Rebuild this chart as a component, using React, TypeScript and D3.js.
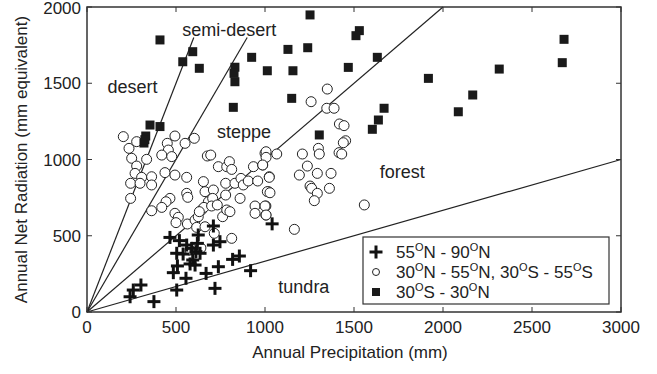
import React from "react";
import * as d3 from "d3";

// Data (precipitation mm, net radiation mm equivalent)
const highLat: [number, number][] = [
  [466, 489], [519, 468], [625, 505], [710, 564], [1040, 578], [560, 439], [588, 417],
  [612, 396], [504, 385], [635, 385], [594, 341], [579, 315], [607, 308], [508, 302],
  [485, 258], [556, 221], [669, 253], [738, 297], [710, 439], [747, 461], [818, 345],
  [856, 367], [919, 271], [719, 155], [504, 144], [376, 68], [303, 177], [260, 144],
  [242, 100], [620, 450], [540, 380],
];

const midLat: [number, number][] = [
  [204, 1150], [279, 1117], [236, 1073], [251, 1008], [335, 1001], [279, 957], [270, 909],
  [307, 883], [245, 844], [298, 844], [245, 745], [363, 887], [363, 833], [438, 914],
  [451, 1106], [494, 1154], [457, 1062], [420, 1029], [476, 1019], [551, 1106], [603, 1139],
  [676, 1023], [695, 1029], [738, 953], [785, 953], [800, 986], [813, 935], [654, 855],
  [663, 789], [779, 844], [831, 844], [865, 876], [878, 833], [906, 859], [959, 859],
  [935, 953], [987, 964], [1000, 1040], [1024, 887], [1019, 789], [860, 745], [779, 767],
  [710, 800], [682, 723], [706, 745], [644, 669], [657, 686], [700, 695], [732, 702],
  [762, 625], [785, 669], [803, 658], [944, 695], [944, 647], [1005, 695], [1005, 636],
  [564, 577], [607, 603], [625, 625], [616, 555], [663, 559], [715, 516], [813, 483],
  [631, 658], [560, 778], [466, 745], [444, 723], [420, 686], [363, 664], [494, 647],
  [513, 621], [500, 586], [566, 752], [494, 898], [560, 883], [579, 406], [640, 420],
  [1350, 1462], [1259, 1379], [1347, 1336], [1388, 1336], [1418, 1233], [1444, 1222],
  [1453, 1123], [1440, 1110], [1300, 1073], [1305, 1036], [1416, 1045], [1431, 1036],
  [1210, 1036], [1066, 1036], [1006, 1051], [1006, 1014], [987, 964], [1238, 957],
  [1193, 898], [1294, 909], [1371, 909], [1024, 883], [1253, 826], [1262, 811],
  [1294, 778], [1277, 730], [1362, 811], [1013, 789], [1028, 782], [1000, 695],
  [1006, 636], [1165, 542], [1558, 702],
];

const tropics: [number, number][] = [
  [410, 1784], [594, 1707], [538, 1641], [631, 1598], [831, 1605], [826, 1565], [831, 1510],
  [822, 1342], [925, 1670], [1013, 1582], [354, 1226], [410, 1216], [330, 1154], [320, 1108],
  [325, 1130], [1253, 1948], [1530, 1845], [1511, 1812], [1129, 1722], [1240, 1733],
  [1631, 1670], [1157, 1582], [1468, 1604], [1918, 1532], [1150, 1401], [1669, 1336],
  [1637, 1259], [1603, 1198], [1305, 1161], [2086, 1313], [2680, 1788], [2670, 1635],
  [2316, 1593], [2167, 1423],
];

// Boundary lines: dryness ratio R/P
const boundaries: { slope: number; pEnd: number }[] = [
  { slope: 3, pEnd: 600 },
  { slope: 2, pEnd: 900 },
  { slope: 1, pEnd: 2000 },
  { slope: 1 / 3, pEnd: 3000 },
];

const regionLabels: { text: string; p: number; r: number }[] = [
  { text: "semi-desert", p: 535, r: 1810 },
  { text: "desert", p: 115, r: 1435 },
  { text: "steppe", p: 730, r: 1140 },
  { text: "forest", p: 1645, r: 880 },
  { text: "tundra", p: 1075, r: 125 },
];

const xTicks = [0, 500, 1000, 1500, 2000, 2500, 3000];
const yTicks = [0, 500, 1000, 1500, 2000];

const legendItems: { kind: string; parts: [string, boolean][] }[] = [
  { kind: "cross", parts: [["55", false], ["O", true], ["N - 90", false], ["O", true], ["N", false]] },
  {
    kind: "circle",
    parts: [["30", false], ["O", true], ["N - 55", false], ["O", true], ["N, 30", false], ["O", true], ["S - 55", false], ["O", true], ["S", false]],
  },
  { kind: "square", parts: [["30", false], ["O", true], ["S - 30", false], ["O", true], ["N", false]] },
];

const W = 657;
const H = 374;
const L = 87, R = 621, T = 7, B = 312;
const FONT = "'Liberation Sans', Arial, Helvetica, sans-serif";

function Cross({ x, y }: { x: number; y: number }) {
  const s = 6.5;
  return (
    <g stroke="#111" strokeWidth={3}>
      <line x1={x - s} x2={x + s} y1={y} y2={y} />
      <line x1={x} x2={x} y1={y - s} y2={y + s} />
    </g>
  );
}
function Circle({ x, y }: { x: number; y: number }) {
  return <circle cx={x} cy={y} r={5} fill="#fff" stroke="#222" strokeWidth={1} />;
}
function Square({ x, y }: { x: number; y: number }) {
  return <rect x={x - 4.5} y={y - 4.5} width={9} height={9} fill="#1a1a1a" />;
}

export default function App() {
  const x = d3.scaleLinear().domain([0, 3000]).range([L, R]);
  const y = d3.scaleLinear().domain([0, 2000]).range([B, T]);
  const tick = 5;

  return (
    <svg width={W} height={H} style={{ position: "absolute", left: 0, top: 0, background: "#fff" }} fontFamily={FONT}>
      <rect width={W} height={H} fill="#fff" />
      {/* boundary lines */}
      {boundaries.map((b, i) => (
        <line key={i} x1={x(0)} y1={y(0)} x2={x(b.pEnd)} y2={y(b.pEnd * b.slope)} stroke="#222" strokeWidth={1.2} />
      ))}
      {/* data */}
      {midLat.map((d, i) => <Circle key={"c" + i} x={x(d[0])} y={y(d[1])} />)}
      {tropics.map((d, i) => <Square key={"s" + i} x={x(d[0])} y={y(d[1])} />)}
      {highLat.map((d, i) => <Cross key={"x" + i} x={x(d[0])} y={y(d[1])} />)}
      {/* region labels */}
      {regionLabels.map((l, i) => (
        <text key={i} x={x(l.p)} y={y(l.r)} fontSize={18} fill="#222">{l.text}</text>
      ))}
      {/* axes box */}
      <rect x={L} y={T} width={R - L} height={B - T} fill="none" stroke="#333" strokeWidth={1.5} />
      {xTicks.map((t) => (
        <g key={"xt" + t}>
          <line x1={x(t)} x2={x(t)} y1={B} y2={B - tick} stroke="#333" />
          <line x1={x(t)} x2={x(t)} y1={T} y2={T + tick} stroke="#333" />
          <text x={x(t)} y={333} textAnchor="middle" fontSize={17} fill="#222">{t}</text>
        </g>
      ))}
      {yTicks.map((t) => (
        <g key={"yt" + t}>
          <line x1={L} x2={L + tick} y1={y(t)} y2={y(t)} stroke="#333" />
          <line x1={R} x2={R - tick} y1={y(t)} y2={y(t)} stroke="#333" />
          <text x={81} y={y(t) + (t === 2000 ? 6.5 : 6)} textAnchor="end" fontSize={17} fill="#222">{t}</text>
        </g>
      ))}
      <text x={(L + R) / 2 - 4} y={358} textAnchor="middle" fontSize={17} fill="#222">Annual Precipitation (mm)</text>
      <text transform={`translate(27,${(T + B) / 2}) rotate(-90)`} textAnchor="middle" fontSize={17} fill="#222">
        Annual Net Radiation (mm equivalent)
      </text>
      {/* legend */}
      <rect x={363} y={237} width={246} height={67} fill="#fff" stroke="#333" strokeWidth={1.2} />
      {legendItems.map((it, i) => {
        const cy = 252 + i * 20;
        return (
          <g key={"lg" + i}>
            {it.kind === "cross" && <Cross x={376} y={cy} />}
            {it.kind === "circle" && <circle cx={376} cy={cy} r={3.5} fill="#fff" stroke="#222" />}
            {it.kind === "square" && <rect x={372} y={cy - 4} width={8} height={8} fill="#1a1a1a" />}
            <text x={396} y={cy + 6} fontSize={17} fill="#222">
              {it.parts.map((p, j) =>
                p[1] ? (
                  <tspan key={j} fontSize={11} dy={-7}>{p[0]}</tspan>
                ) : (
                  <tspan key={j} dy={j === 0 ? 0 : 7}>{p[0]}</tspan>
                )
              )}
            </text>
          </g>
        );
      })}
    </svg>
  );
}
